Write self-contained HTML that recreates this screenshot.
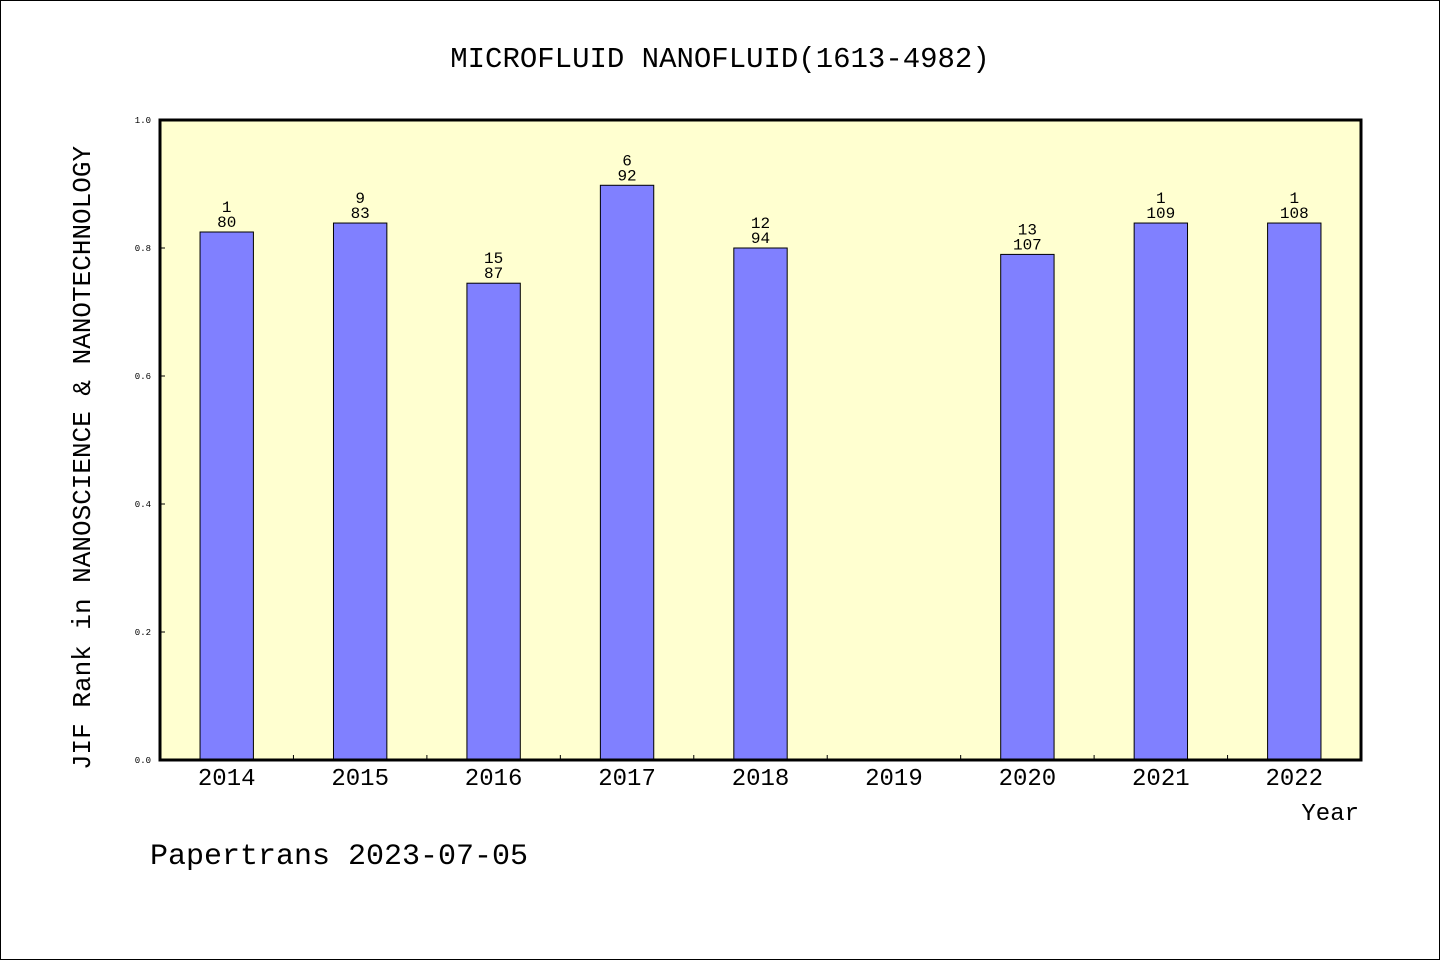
<!DOCTYPE html>
<html><head><meta charset="utf-8"><style>
html,body{margin:0;padding:0;background:#fff}
svg{display:block}
text{font-family:"Liberation Mono","WenQuanYi Zen Hei",monospace;fill:#000}
</style></head><body>
<svg id="chart" width="1440" height="960" viewBox="0 0 1440 960" xmlns="http://www.w3.org/2000/svg">
<rect x="0.5" y="0.5" width="1439" height="959" fill="#fff" stroke="#000"/>
<text x="720" y="67" font-size="29" text-anchor="middle">MICROFLUID NANOFLUID(1613-4982)</text>
<rect x="160" y="120" width="1201" height="640" fill="#ffffd0"/>
<g id="bars"></g>
<g id="axes"></g>
<rect x="160" y="120" width="1201" height="640" fill="none" stroke="#000" stroke-width="3"/>
<text transform="translate(90,458) rotate(-90)" font-size="26" text-anchor="middle">JIF Rank in NANOSCIENCE &amp; NANOTECHNOLOGY</text>
<text x="1359" y="820" font-size="24" text-anchor="end">Year</text>
<text x="150" y="864" font-size="30">Papertrans 2023-07-05</text>
</svg>
<script>
const categories=["2014","2015","2016","2017","2018","2019","2020","2021","2022"];
const values=[0.825,0.839,0.745,0.898,0.800,null,0.790,0.839,0.839];
const ranks=["1","9","15","6","12","","13","1","1"];
const totals=["80","83","87","92","94","","107","109","108"];
const yTicks=[0,0.2,0.4,0.6,0.8,1.0];
const NS="http://www.w3.org/2000/svg";
const X0=160,X1=1361,Y0=760,Y1=120;
const slot=(X1-X0)/categories.length;
const xc=i=>X0+slot*(i+0.5);
const y=v=>Y0-(v/1.0)*(Y0-Y1);
function mk(tag,attrs,parent){const e=document.createElementNS(NS,tag);for(const k in attrs)e.setAttribute(k,attrs[k]);parent.appendChild(e);return e;}
const bars=document.getElementById('bars'),axes=document.getElementById('axes');
const bw=slot*0.4;
categories.forEach((c,i)=>{
  const v=values[i];
  if(v!==null){
    const r=mk('rect',{x:xc(i)-bw/2,y:y(v),width:bw,height:Y0-y(v),fill:'#8080ff',stroke:'#000','stroke-width':1},bars);
    
    
    const t1=mk('text',{x:xc(i),y:y(v)-20,'font-size':16,'text-anchor':'middle'},bars);
    t1.textContent=ranks[i];
    
    
    const t2=mk('text',{x:xc(i),y:y(v)-5,'font-size':16,'text-anchor':'middle'},bars);
    t2.textContent=totals[i];
    
    
  }
  const tl=mk('text',{x:xc(i),y:785,'font-size':24,'text-anchor':'middle'},axes);
  tl.textContent=c;
  
  
  if(i>0){
    const tk=mk('line',{x1:X0+slot*i,x2:X0+slot*i,y1:Y0,y2:Y0-5,stroke:'#000'},axes);
    
    
  }
});
yTicks.forEach(v=>{
  const tk=mk('line',{x1:X0,x2:X0+5,y1:y(v),y2:y(v),stroke:'#000'},axes);
  
  
  const t=mk('text',{x:X0-9,y:y(v)+3,'font-size':9,'text-anchor':'end'},axes);
  t.textContent=v.toFixed(1);
  
  
});
</script>
</body></html>
